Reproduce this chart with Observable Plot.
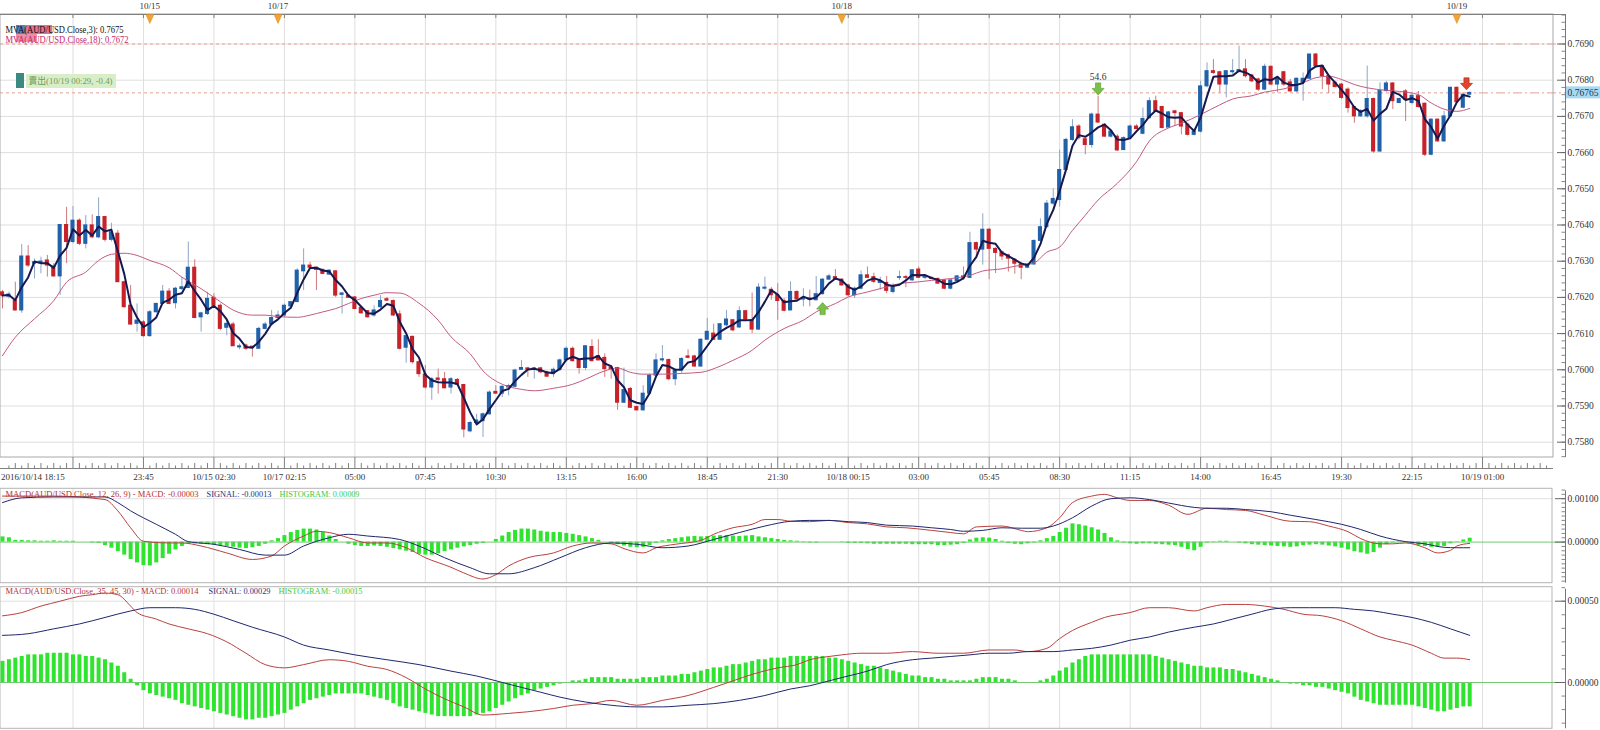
<!DOCTYPE html>
<html><head><meta charset="utf-8">
<script src="https://cdn.jsdelivr.net/npm/d3@7"></script>
<script src="https://cdn.jsdelivr.net/npm/@observablehq/plot@0.6"></script>
<style>
body{margin:0;background:#fff;}
#wrap{position:relative;width:1600px;height:730px;overflow:hidden;background:#fff;}
#wrap svg{position:absolute;left:0;}
</style></head><body><div id="wrap"></div>
<script>
// ---------- DATA ----------
// 15-minute AUD/USD candles: [open, high, low, close]
const candles = [
[0.76214,0.76219,0.76168,0.76205],[0.76202,0.76214,0.76196,0.76208],[0.76191,0.76242,0.76162,0.76164],[0.76164,0.76346,0.76156,0.76313],[0.76313,0.76343,0.76283,0.76288],
[0.76293,0.76306,0.76251,0.76297],[0.76294,0.76311,0.76265,0.76299],[0.76302,0.76316,0.76256,0.76288],[0.76285,0.76293,0.76256,0.76258],[0.76258,0.76400,0.76205,0.76400],
[0.76400,0.76449,0.76293,0.76353],[0.76353,0.76451,0.76348,0.76412],[0.76412,0.76417,0.76343,0.76348],[0.76348,0.76426,0.76334,0.76399],[0.76399,0.76428,0.76362,0.76366],
[0.76366,0.76475,0.76362,0.76422],[0.76422,0.76424,0.76353,0.76359],[0.76359,0.76405,0.76353,0.76380],[0.76376,0.76385,0.76242,0.76242],[0.76242,0.76245,0.76170,0.76173],
[0.76177,0.76233,0.76123,0.76125],[0.76127,0.76182,0.76104,0.76136],[0.76131,0.76136,0.76090,0.76093],[0.76093,0.76164,0.76090,0.76159],[0.76159,0.76184,0.76156,0.76182],
[0.76182,0.76233,0.76180,0.76216],[0.76216,0.76224,0.76180,0.76182],[0.76184,0.76228,0.76168,0.76224],[0.76223,0.76256,0.76219,0.76228],[0.76226,0.76353,0.76224,0.76282],
[0.76282,0.76304,0.76143,0.76143],[0.76145,0.76159,0.76104,0.76156],[0.76154,0.76214,0.76150,0.76196],[0.76199,0.76210,0.76173,0.76177],[0.76177,0.76182,0.76108,0.76113],
[0.76116,0.76136,0.76094,0.76127],[0.76125,0.76131,0.76065,0.76065],[0.76062,0.76071,0.76055,0.76065],[0.76067,0.76071,0.76053,0.76058],[0.76064,0.76064,0.76035,0.76060],
[0.76058,0.76118,0.76058,0.76113],[0.76113,0.76131,0.76110,0.76125],[0.76125,0.76164,0.76122,0.76143],[0.76143,0.76162,0.76141,0.76150],[0.76150,0.76182,0.76145,0.76177],
[0.76175,0.76189,0.76173,0.76187],[0.76187,0.76279,0.76187,0.76274],[0.76272,0.76334,0.76219,0.76288],[0.76288,0.76297,0.76279,0.76282],[0.76282,0.76282,0.76219,0.76276],
[0.76276,0.76278,0.76263,0.76265],[0.76263,0.76276,0.76261,0.76274],[0.76272,0.76274,0.76200,0.76205],[0.76207,0.76212,0.76154,0.76211],[0.76205,0.76207,0.76197,0.76199],
[0.76200,0.76202,0.76166,0.76168],[0.76171,0.76173,0.76154,0.76156],[0.76162,0.76164,0.76143,0.76145],[0.76150,0.76177,0.76145,0.76164],[0.76173,0.76205,0.76168,0.76190],
[0.76195,0.76200,0.76189,0.76191],[0.76190,0.76193,0.76147,0.76150],[0.76153,0.76163,0.76055,0.76058],[0.76061,0.76093,0.76018,0.76093],[0.76091,0.76093,0.76016,0.76021],
[0.76021,0.76026,0.75979,0.75988],[0.75987,0.76012,0.75947,0.75951],[0.75951,0.75979,0.75916,0.75974],[0.75976,0.76002,0.75933,0.75972],[0.75974,0.75993,0.75947,0.75949],
[0.75951,0.75979,0.75933,0.75974],[0.75972,0.75976,0.75955,0.75959],[0.75958,0.75960,0.75812,0.75835],[0.75830,0.75858,0.75826,0.75853],[0.75853,0.75877,0.75849,0.75860],
[0.75858,0.75881,0.75813,0.75877],[0.75877,0.75942,0.75875,0.75937],[0.75939,0.75956,0.75933,0.75934],[0.75934,0.75956,0.75923,0.75953],[0.75951,0.75960,0.75928,0.75955],
[0.75953,0.76002,0.75951,0.75998],[0.76000,0.76026,0.75998,0.76005],[0.76004,0.76007,0.75979,0.76000],[0.76000,0.76007,0.75974,0.76004],[0.76004,0.76007,0.75990,0.75993],
[0.75993,0.75996,0.75979,0.75981],[0.75988,0.76005,0.75979,0.76000],[0.76000,0.76030,0.75996,0.76026],[0.76026,0.76063,0.76021,0.76058],[0.76058,0.76063,0.76021,0.76024],
[0.76026,0.76027,0.75988,0.76005],[0.76005,0.76067,0.75998,0.76065],[0.76063,0.76083,0.76021,0.76024],[0.76038,0.76083,0.76024,0.76026],[0.76033,0.76044,0.75979,0.76002],
[0.76007,0.76012,0.75974,0.76002],[0.76005,0.76007,0.75888,0.75909],[0.75909,0.76005,0.75907,0.75944],[0.75947,0.75951,0.75893,0.75895],[0.75897,0.75900,0.75886,0.75888],
[0.75888,0.75956,0.75886,0.75934],[0.75934,0.75988,0.75933,0.75984],[0.75984,0.76044,0.75981,0.76026],[0.76026,0.76067,0.76021,0.76029],[0.76027,0.76030,0.75970,0.75974],
[0.75974,0.76002,0.75956,0.75998],[0.75998,0.76033,0.75990,0.76030],[0.76037,0.76055,0.76030,0.76033],[0.76037,0.76040,0.76007,0.76009],[0.76009,0.76086,0.76007,0.76083],
[0.76083,0.76142,0.76083,0.76105],[0.76100,0.76126,0.76082,0.76083],[0.76083,0.76128,0.76082,0.76126],[0.76123,0.76164,0.76118,0.76139],[0.76137,0.76139,0.76105,0.76109],
[0.76117,0.76174,0.76114,0.76162],[0.76162,0.76164,0.76137,0.76139],[0.76137,0.76212,0.76100,0.76111],[0.76111,0.76238,0.76109,0.76227],[0.76224,0.76256,0.76220,0.76227],
[0.76221,0.76227,0.76192,0.76206],[0.76206,0.76238,0.76137,0.76190],[0.76190,0.76197,0.76160,0.76163],[0.76164,0.76243,0.76163,0.76215],[0.76215,0.76218,0.76190,0.76194],
[0.76194,0.76224,0.76174,0.76197],[0.76197,0.76220,0.76174,0.76194],[0.76192,0.76258,0.76192,0.76209],[0.76209,0.76252,0.76206,0.76249],[0.76249,0.76264,0.76247,0.76258],
[0.76256,0.76277,0.76247,0.76249],[0.76249,0.76252,0.76231,0.76233],[0.76233,0.76236,0.76201,0.76206],[0.76206,0.76229,0.76197,0.76224],[0.76224,0.76273,0.76221,0.76261],
[0.76261,0.76284,0.76252,0.76254],[0.76256,0.76267,0.76238,0.76243],[0.76240,0.76256,0.76220,0.76245],[0.76240,0.76258,0.76210,0.76218],[0.76215,0.76238,0.76210,0.76231],
[0.76254,0.76273,0.76247,0.76256],[0.76256,0.76261,0.76227,0.76254],[0.76247,0.76277,0.76245,0.76275],[0.76277,0.76284,0.76252,0.76254],[0.76254,0.76261,0.76249,0.76256],
[0.76254,0.76256,0.76249,0.76251],[0.76251,0.76254,0.76236,0.76238],[0.76247,0.76249,0.76221,0.76224],[0.76224,0.76249,0.76221,0.76247],[0.76245,0.76261,0.76243,0.76258],
[0.76258,0.76284,0.76247,0.76254],[0.76254,0.76380,0.76252,0.76350],[0.76350,0.76353,0.76313,0.76332],[0.76332,0.76431,0.76289,0.76387],[0.76387,0.76390,0.76249,0.76334],
[0.76334,0.76337,0.76266,0.76323],[0.76325,0.76328,0.76302,0.76313],[0.76316,0.76319,0.76270,0.76307],[0.76304,0.76307,0.76264,0.76293],[0.76291,0.76295,0.76249,0.76282],
[0.76282,0.76293,0.76279,0.76291],[0.76291,0.76359,0.76289,0.76356],[0.76356,0.76417,0.76353,0.76394],[0.76394,0.76468,0.76392,0.76459],[0.76459,0.76500,0.76454,0.76472],
[0.76469,0.76607,0.76450,0.76552],[0.76552,0.76640,0.76550,0.76635],[0.76635,0.76691,0.76631,0.76670],[0.76672,0.76677,0.76635,0.76640],[0.76637,0.76640,0.76594,0.76621],
[0.76621,0.76709,0.76612,0.76705],[0.76705,0.76756,0.76681,0.76683],[0.76677,0.76680,0.76643,0.76644],[0.76644,0.76663,0.76640,0.76658],[0.76644,0.76649,0.76603,0.76606],
[0.76607,0.76644,0.76606,0.76640],[0.76640,0.76677,0.76637,0.76672],[0.76672,0.76677,0.76663,0.76665],[0.76652,0.76723,0.76649,0.76693],[0.76695,0.76751,0.76693,0.76742],
[0.76742,0.76756,0.76711,0.76714],[0.76726,0.76728,0.76665,0.76668],[0.76669,0.76714,0.76668,0.76711],[0.76714,0.76717,0.76672,0.76709],[0.76709,0.76711,0.76649,0.76672],
[0.76677,0.76681,0.76646,0.76649],[0.76649,0.76663,0.76646,0.76658],[0.76658,0.76797,0.76654,0.76783],[0.76783,0.76848,0.76779,0.76825],[0.76825,0.76857,0.76816,0.76820],
[0.76822,0.76825,0.76765,0.76788],[0.76788,0.76825,0.76751,0.76825],[0.76822,0.76857,0.76816,0.76825],[0.76823,0.76894,0.76820,0.76828],[0.76830,0.76857,0.76806,0.76811],
[0.76813,0.76816,0.76793,0.76797],[0.76802,0.76806,0.76769,0.76774],[0.76774,0.76844,0.76772,0.76837],[0.76837,0.76839,0.76785,0.76788],[0.76788,0.76806,0.76765,0.76804],
[0.76822,0.76825,0.76783,0.76788],[0.76794,0.76802,0.76767,0.76769],[0.76769,0.76806,0.76767,0.76804],[0.76793,0.76820,0.76742,0.76804],[0.76804,0.76871,0.76802,0.76871],
[0.76871,0.76874,0.76837,0.76839],[0.76839,0.76841,0.76774,0.76811],[0.76811,0.76813,0.76763,0.76788],[0.76793,0.76797,0.76779,0.76781],[0.76788,0.76791,0.76746,0.76751],
[0.76774,0.76779,0.76709,0.76723],[0.76726,0.76728,0.76681,0.76700],[0.76700,0.76719,0.76698,0.76714],[0.76700,0.76839,0.76695,0.76748],[0.76748,0.76751,0.76598,0.76603],
[0.76603,0.76793,0.76600,0.76770],[0.76770,0.76797,0.76767,0.76791],[0.76791,0.76793,0.76719,0.76742],[0.76737,0.76751,0.76735,0.76748],[0.76769,0.76774,0.76686,0.76746],
[0.76737,0.76760,0.76732,0.76757],[0.76756,0.76769,0.76723,0.76726],[0.76735,0.76737,0.76589,0.76594],[0.76594,0.76693,0.76591,0.76691],[0.76691,0.76693,0.76628,0.76631],
[0.76631,0.76714,0.76628,0.76700],[0.76700,0.76781,0.76698,0.76779],[0.76779,0.76781,0.76736,0.76739],[0.76724,0.76762,0.76721,0.76760],[0.76760,0.76767,0.76759,0.76765]
];

// MA(18): [candle index, value]
const ma18 = [[0,0.76039],[2,0.76090],[5,0.76141],[8,0.76191],[10,0.76242],[13,0.76270],[15,0.76302],[17,0.76319],[19,0.76322],[21,0.76316],[23,0.76302],[26,0.76282],[28,0.76256],[31,0.76224],[34,0.76188],[36,0.76165],[39,0.76151],[41,0.76151],[43,0.76147],[46,0.76145],[48,0.76151],[50,0.76160],[52,0.76169],[54,0.76183],[56,0.76197],[58,0.76206],[60,0.76213],[62,0.76212],[65,0.76184],[68,0.76137],[70,0.76091],[73,0.76044],[75,0.75997],[78,0.75960],[81,0.75946],[83,0.75942],[86,0.75949],[89,0.75960],[91,0.75974],[94,0.75997],[96,0.76005],[98,0.75993],[100,0.75988],[103,0.75988],[106,0.75990],[109,0.75993],[112,0.76010],[114,0.76026],[117,0.76054],[119,0.76082],[122,0.76114],[125,0.76137],[127,0.76160],[130,0.76183],[132,0.76201],[135,0.76215],[138,0.76229],[140,0.76238],[143,0.76243],[145,0.76247],[148,0.76252],[151,0.76261],[153,0.76273],[156,0.76279],[158,0.76286],[161,0.76295],[163,0.76325],[165,0.76339],[167,0.76385],[169,0.76427],[171,0.76469],[174,0.76515],[177,0.76575],[179,0.76632],[182,0.76668],[184,0.76681],[187,0.76705],[190,0.76732],[192,0.76748],[195,0.76757],[197,0.76767],[200,0.76776],[203,0.76793],[205,0.76807],[207,0.76811],[209,0.76802],[211,0.76788],[213,0.76779],[216,0.76772],[218,0.76769],[221,0.76760],[223,0.76737],[225,0.76720],[227,0.76714],[229,0.76722]];

// MACD(12,26,9)
const macd1 = [[0,0.00106],[8,0.00106],[16,0.00098],[18,0.00072],[20,0.00033],[22,0.00002],[26,-0.00002],[28,-0.00002],[31,-0.00009],[35,-0.00025],[39,-0.00040],[42,-0.00032],[44,-0.00009],[47,0.00014],[49,0.00025],[51,0.00022],[54,0.00010],[57,-0.00002],[60,-0.00002],[63,-0.00013],[66,-0.00036],[70,-0.00058],[72,-0.00071],[75,-0.00085],[77,-0.00075],[79,-0.00055],[82,-0.00036],[86,-0.00025],[89,-0.00009],[92,-0.00002],[95,-0.00004],[97,-0.00015],[100,-0.00025],[102,-0.00013],[105,-0.00005],[109,0.00004],[111,0.00018],[114,0.00033],[117,0.00041],[119,0.00052],[121,0.00052],[123,0.00048],[126,0.00047],[129,0.00050],[132,0.00045],[135,0.00042],[138,0.00035],[141,0.00033],[145,0.00027],[148,0.00022],[150,0.00019],[152,0.00035],[156,0.00037],[159,0.00027],[160,0.00024],[163,0.00033],[165,0.00056],[167,0.00091],[170,0.00106],[172,0.00110],[174,0.00102],[176,0.00096],[179,0.00096],[182,0.00085],[185,0.00064],[188,0.00078],[191,0.00075],[194,0.00073],[197,0.00062],[201,0.00048],[204,0.00047],[207,0.00037],[210,0.00024],[212,0.00008],[215,-0.00004],[217,-0.00004],[219,-0.00002],[222,-0.00013],[224,-0.00025],[226,-0.00019],[227,-0.00009],[229,-0.00003]];
const signal1 = [[0,0.00091],[3,0.00102],[8,0.00104],[16,0.00104],[18,0.00091],[20,0.00072],[24,0.00041],[27,0.00018],[29,0.00001],[33,-0.00005],[37,-0.00017],[41,-0.00030],[44,-0.00030],[47,-0.00009],[51,0.00010],[54,0.00018],[57,0.00014],[62,0.00006],[65,-0.00009],[69,-0.00036],[73,-0.00059],[76,-0.00073],[79,-0.00073],[83,-0.00059],[87,-0.00036],[91,-0.00013],[95,-0.00002],[99,-0.00005],[103,-0.00013],[107,-0.00009],[111,0.00006],[115,0.00022],[119,0.00037],[123,0.00048],[126,0.00050],[129,0.00050],[132,0.00047],[135,0.00045],[138,0.00039],[142,0.00037],[145,0.00033],[148,0.00029],[150,0.00025],[153,0.00027],[156,0.00033],[159,0.00032],[162,0.00032],[164,0.00037],[167,0.00056],[170,0.00083],[173,0.00100],[176,0.00102],[179,0.00098],[182,0.00090],[186,0.00080],[188,0.00078],[191,0.00078],[194,0.00075],[198,0.00070],[201,0.00062],[205,0.00052],[209,0.00041],[212,0.00029],[215,0.00014],[219,0.00001],[222,-0.00004],[225,-0.00012],[227,-0.00013],[229,-0.00013]];
const hist1 = [0.00012,0.00010,0.00004,0.00004,0.00003,0.00003,0.00002,0.00002,0.00003,0.00002,
0.00002,0.00002,0,0,-0.00002,-0.00003,-0.00008,-0.00014,-0.00022,-0.00030,
-0.00040,-0.00048,-0.00054,-0.00055,-0.00048,-0.00038,-0.00028,-0.00018,-0.00010,-0.00005,
-0.00004,-0.00005,-0.00006,-0.00007,-0.00008,-0.00010,-0.00012,-0.00014,-0.00015,-0.00013,
-0.00010,-0.00005,0.00003,0.00008,0.00015,0.00022,0.00027,0.00030,0.00030,0.00028,
0.00022,0.00014,0.00006,0,-0.00005,-0.00008,-0.00010,-0.00010,-0.00009,-0.00010,
-0.00012,-0.00015,-0.00018,-0.00021,-0.00024,-0.00028,-0.00030,-0.00030,-0.00027,-0.00022,
-0.00018,-0.00014,-0.00011,-0.00008,-0.00005,-0.00003,0,0.00006,0.00014,0.00022,
0.00027,0.00030,0.00030,0.00028,0.00025,0.00023,0.00022,0.00022,0.00020,0.00018,
0.00015,0.00012,0.00008,0.00004,0,-0.00003,-0.00006,-0.00009,-0.00012,-0.00013,
-0.00012,-0.00008,-0.00003,0.00003,0.00006,0.00008,0.00010,0.00012,0.00013,0.00012,
0.00013,0.00014,0.00015,0.00015,0.00014,0.00013,0.00014,0.00015,0.00012,0.00010,
0.00008,0.00006,0.00004,0.00003,0.00002,0.00001,-0.00002,-0.00002,0,0,
0,-0.00001,-0.00003,-0.00003,-0.00003,-0.00004,-0.00005,-0.00005,-0.00005,-0.00005,
-0.00005,-0.00005,-0.00006,-0.00006,-0.00006,-0.00006,-0.00008,-0.00008,-0.00007,-0.00006,
-0.00003,0.00005,0.00009,0.00010,0.00009,0.00006,0.00002,-0.00003,-0.00005,-0.00006,
-0.00004,-0.00002,0.00003,0.00008,0.00013,0.00022,0.00032,0.00042,0.00040,0.00037,
0.00033,0.00028,0.00020,0.00010,0.00003,-0.00002,-0.00004,-0.00005,-0.00004,-0.00004,
-0.00005,-0.00006,-0.00007,-0.00008,-0.00012,-0.00017,-0.00020,-0.00012,-0.00002,0.00001,
0.00002,0.00002,0,-0.00002,-0.00004,-0.00006,-0.00007,-0.00008,-0.00009,-0.00010,
-0.00011,-0.00012,-0.00011,-0.00008,-0.00007,-0.00006,-0.00007,-0.00009,-0.00011,-0.00014,
-0.00018,-0.00022,-0.00025,-0.00028,-0.00024,-0.00014,-0.00006,-0.00002,-0.00001,-0.00002,
-0.00005,-0.00008,-0.00010,-0.00012,-0.00012,-0.00010,-0.00004,0.00001,0.00005,0.00009];

// MACD(35,45,30)
const macd2 = [[0,0.00041],[3,0.00043],[6,0.00047],[9,0.00050],[12,0.00053],[14,0.00054],[16,0.00055],[18,0.00054],[20,0.00047],[21,0.00043],[24,0.00039],[26,0.00036],[29,0.00033],[32,0.00030],[35,0.00025],[38,0.00018],[41,0.00011],[44,0.00009],[47,0.00011],[51,0.00014],[54,0.00013],[57,0.00010],[60,0.00008],[63,0.00003],[66,-0.00004],[69,-0.00010],[72,-0.00015],[75,-0.00020],[79,-0.00019],[82,-0.00018],[86,-0.00016],[89,-0.00014],[92,-0.00013],[95,-0.00011],[99,-0.00014],[103,-0.00011],[107,-0.00008],[111,-0.00003],[114,0.00001],[117,0.00005],[121,0.00009],[124,0.00011],[126,0.00014],[129,0.00016],[131,0.00017],[134,0.00018],[138,0.00018],[142,0.00019],[146,0.00018],[150,0.00018],[154,0.00020],[158,0.00020],[160,0.00019],[163,0.00021],[165,0.00027],[167,0.00032],[170,0.00037],[172,0.00040],[176,0.00043],[179,0.00046],[182,0.00046],[186,0.00044],[188,0.00046],[191,0.00048],[194,0.00048],[197,0.00047],[200,0.00045],[203,0.00042],[206,0.00041],[209,0.00038],[212,0.00033],[215,0.00028],[217,0.00026],[220,0.00023],[223,0.00018],[225,0.00015],[227,0.00015],[229,0.00014]];
const signal2 = [[0,0.00029],[4,0.00030],[8,0.00033],[12,0.00036],[16,0.00040],[20,0.00044],[23,0.00046],[27,0.00046],[30,0.00045],[33,0.00042],[36,0.00038],[39,0.00034],[44,0.00028],[47,0.00023],[51,0.00020],[55,0.00017],[60,0.00014],[65,0.00011],[70,0.00007],[74,0.00004],[79,-0.00001],[84,-0.00006],[87,-0.00009],[91,-0.00012],[95,-0.00014],[99,-0.00015],[103,-0.00015],[107,-0.00014],[111,-0.00013],[115,-0.00011],[119,-0.00008],[123,-0.00004],[126,-0.00002],[129,0.00001],[132,0.00004],[135,0.00007],[138,0.00011],[142,0.00014],[145,0.00015],[148,0.00016],[151,0.00017],[154,0.00018],[157,0.00018],[160,0.00019],[164,0.00019],[167,0.00020],[170,0.00021],[173,0.00023],[176,0.00026],[179,0.00028],[182,0.00031],[186,0.00034],[189,0.00036],[192,0.00039],[195,0.00042],[198,0.00045],[201,0.00046],[204,0.00046],[208,0.00046],[211,0.00045],[214,0.00044],[217,0.00042],[220,0.00040],[223,0.00037],[226,0.00033],[229,0.00029]];
const hist2 = [0.00013,0.00014,0.00015,0.00016,0.00017,0.00017,0.00017,0.00018,0.00018,0.00018,
0.00018,0.00017,0.00017,0.00016,0.00016,0.00015,0.00014,0.00012,0.00010,0.00006,
0.00002,-0.00002,-0.00005,-0.00007,-0.00008,-0.00009,-0.00010,-0.00011,-0.00013,-0.00014,
-0.00015,-0.00016,-0.00017,-0.00018,-0.00019,-0.00020,-0.00021,-0.00022,-0.00023,-0.00023,
-0.00022,-0.00022,-0.00021,-0.00020,-0.00019,-0.00017,-0.00015,-0.00013,-0.00011,-0.00010,
-0.00009,-0.00008,-0.00007,-0.00007,-0.00007,-0.00007,-0.00007,-0.00008,-0.00009,-0.00010,
-0.00011,-0.00013,-0.00015,-0.00016,-0.00017,-0.00018,-0.00019,-0.00020,-0.00021,-0.00021,
-0.00021,-0.00021,-0.00021,-0.00021,-0.00020,-0.00019,-0.00018,-0.00016,-0.00014,-0.00012,
-0.00010,-0.00008,-0.00007,-0.00005,-0.00004,-0.00003,-0.00002,-0.00001,0,0.00001,
0.00001,0.00002,0.00003,0.00003,0.00003,0.00003,0.00002,0.00002,0.00002,0.00002,
0.00003,0.00003,0.00003,0.00004,0.00004,0.00004,0.00005,0.00005,0.00006,0.00007,
0.00008,0.00009,0.00009,0.00010,0.00011,0.00011,0.00012,0.00013,0.00014,0.00014,
0.00015,0.00015,0.00015,0.00016,0.00016,0.00016,0.00016,0.00016,0.00016,0.00015,
0.00015,0.00014,0.00013,0.00012,0.00011,0.00010,0.00010,0.00009,0.00008,0.00007,
0.00006,0.00005,0.00004,0.00004,0.00003,0.00003,0.00002,0.00002,0.00001,0.00001,
0.00001,0.00001,0.00002,0.00003,0.00003,0.00003,0.00002,0.00002,0.00001,0,
0,0,0.00001,0.00002,0.00004,0.00007,0.00009,0.00012,0.00014,0.00016,
0.00017,0.00017,0.00017,0.00017,0.00017,0.00017,0.00017,0.00017,0.00017,0.00017,
0.00016,0.00015,0.00014,0.00013,0.00012,0.00011,0.00010,0.00010,0.00009,0.00009,
0.00009,0.00008,0.00008,0.00007,0.00006,0.00005,0.00004,0.00003,0.00002,0.00001,
0,-0.00001,-0.00001,-0.00002,-0.00002,-0.00003,-0.00003,-0.00004,-0.00005,-0.00006,
-0.00007,-0.00009,-0.00011,-0.00012,-0.00013,-0.00014,-0.00014,-0.00014,-0.00014,-0.00014,
-0.00014,-0.00015,-0.00016,-0.00017,-0.00018,-0.00018,-0.00017,-0.00016,-0.00015,-0.00015];

// axis labels
const timeTickIdx = [0,22,33,44,55,66,77,88,99,110,121,132,143,154,165,176,187,198,209,220,231];
const timeLabels = ["2016/10/14 18:15","23:45","10/15 02:30","10/17 02:15","05:00","07:45","10:30","13:15","16:00","18:45","21:30","10/18 00:15","03:00","05:45","08:30","11:15","14:00","16:45","19:30","22:15","10/19 01:00"];
const dateIdx = [23,43,131,227];
const dateLabels = ["10/15","10/17","10/18","10/19"];
const priceTicks = [0.7580,0.7590,0.7600,0.7610,0.7620,0.7630,0.7640,0.7650,0.7660,0.7670,0.7680,0.7690];
const macd1Ticks = [0,0.00100];
const macd2Ticks = [0,0.00050];
const levelLines = [0.7690, 0.76765];
const maLegend = ["MVA(AUD/USD.Close,3): 0.7675","MVA(AUD/USD.Close,18): 0.7672"];
const tradeNote = "賣出(10/19 00:29, -0.4)";
const sigIdx = [171, 128, 228.5];
const sigPrice = [0.76776, 0.76169, 0.76790];
const sigDir = ["down","up","down"];
const sigLabel = ["54.6","",""];

// ---------- LAYOUT ----------
const S = "'Liberation Serif','DejaVu Serif',serif";
const ix = px => (px - 2) / 6.407;            // page x -> candle index
const pp = px => 0.7690 - (px - 43.5) / 36200; // page y -> price (main)
const XL = ix(0), XR = ix(1553), XA = ix(1565);
const vgrid = d3.range(11, 242, 11);
const blueBody="#2161a9", redBody="#c7222a", blueWick="#8ea6c8", redWick="#cf7b7b";
const textWidths = new Map(); // rendered text width in px (layout only)

const rows = candles.map(([o,h,l,c],i)=>({i,o,h,l,c}));
const up = rows.filter(d=>d.c>=d.o), dn = rows.filter(d=>d.c<d.o);
const sigs = sigIdx.map((x,k)=>({i:x, p:sigPrice[k], dir:sigDir[k], label:sigLabel[k]}));

const arrowDown = {draw(c){c.moveTo(-2.6,-6);c.lineTo(2.6,-6);c.lineTo(2.6,-0.5);c.lineTo(6,-0.5);c.lineTo(0,6);c.lineTo(-6,-0.5);c.lineTo(-2.6,-0.5);c.closePath();}};
const arrowUp = {draw(c){c.moveTo(-2.6,6);c.lineTo(2.6,6);c.lineTo(2.6,0.5);c.lineTo(6,0.5);c.lineTo(0,-6);c.lineTo(-6,0.5);c.lineTo(-2.6,0.5);c.closePath();}};
const triDown = {draw(c){c.moveTo(-4,-4.5);c.lineTo(4,-4.5);c.lineTo(0,4.5);c.closePath();}};

function txt(px, yv, s, fill, size, anchor, font, width){
  if (width) textWidths.set(s, width);
  return Plot.text([s], {x: ix(px), y: yv, text: d=>d, fill, fontSize: size||9, textAnchor: anchor||"start", fontFamily: font||S});
}
function box(px1, px2, y1, y2, fill, extra){
  return Plot.rect([0], Object.assign({x1: ix(px1), x2: ix(px2), y1, y2, fill}, extra||{}));
}
function fitTexts(svg){
  svg.querySelectorAll("text").forEach(t => {
    const w = textWidths.get(t.textContent);
    if (w) { t.setAttribute("textLength", w); t.setAttribute("lengthAdjust", "spacingAndGlyphs"); }
  });
}
const xOpt = {type:"linear", domain:[ix(0), ix(1600)], range:[0,1600], axis:null};

// ---------- MAIN PRICE PANEL ----------
const mainMarks = [
  Plot.ruleY(priceTicks, {y: d=>d, x1: XL, x2: XR, stroke:"#dedede"}),
  Plot.ruleX(vgrid, {x: d=>d, y1: pp(457), y2: pp(14), stroke:"#dedede"}),
  Plot.ruleY(levelLines, {y: d=>d, x1: XL, x2: ix(1462), stroke:"#e4a090", strokeDasharray:"3,3"}),
  Plot.ruleY(levelLines, {y: d=>d, x1: ix(1462), x2: XA, stroke:"#e4a090", strokeDasharray:"9,3,2,3"}),
  box(0, 1553, pp(457), pp(14), "none", {stroke:"#a8a8a8"}),
  // candles
  Plot.ruleX(up, {x:"i", y1:"l", y2:"h", stroke: blueWick}),
  Plot.ruleX(dn, {x:"i", y1:"l", y2:"h", stroke: redWick}),
  Plot.rect(up, {x1: d=>d.i-0.32, x2: d=>d.i+0.32, y1:"o", y2:"c", fill: blueBody, insetTop:-0.5, insetBottom:-0.5}),
  Plot.rect(dn, {x1: d=>d.i-0.32, x2: d=>d.i+0.32, y1:"o", y2:"c", fill: redBody, insetTop:-0.5, insetBottom:-0.5}),
  // moving averages
  Plot.line(ma18, {x: d=>d[0], y: d=>d[1], stroke:"#c25a84", strokeWidth:1, curve:"monotone-x"}),
  Plot.line(rows, Plot.windowY({k:3, anchor:"end"}, {x:"i", y:"c", stroke:"#15194f", strokeWidth:2})),
  // trade signals
  Plot.dot(sigs.filter(d=>d.dir==="down" && d.label), {x:"i", y:"p", symbol: arrowDown, fill:"#7cc04a", stroke:"#4f9a2c", strokeWidth:0.6}),
  Plot.dot(sigs.filter(d=>d.dir==="up"), {x:"i", y:"p", symbol: arrowUp, fill:"#7cc04a", stroke:"#4f9a2c", strokeWidth:0.6}),
  Plot.dot(sigs.filter(d=>d.dir==="down" && !d.label), {x:"i", y:"p", symbol: arrowDown, fill:"#e0452b", stroke:"#a82a16", strokeWidth:0.6}),
  Plot.text(sigs.filter(d=>d.label), {x:"i", y:"p", text:"label", dy:-12, fontSize:9.5, fontFamily:S, fill:"#333"}),
  // right axis
  Plot.ruleX([0], {x: XA, y1: pp(457), y2: pp(14), stroke:"#777"}),
  Plot.ruleY(d3.range(-2, 60).map(k=>0.7580 + k*0.0002), {y: d=>d, x1: ix(1561.5), x2: XA, stroke:"#888"}),
  Plot.ruleY(priceTicks, {y: d=>d, x1: ix(1557), x2: XA, stroke:"#666"}),
  Plot.text(priceTicks, {x: ix(1567), y: d=>d, text: d=>d.toFixed(4), textAnchor:"start", fontSize:9.5, fontFamily:S, fill:"#333"}),
  box(1566, 1600, levelLines[1]-6/36200, levelLines[1]+6/36200, "#a6daf4"),
  Plot.text([levelLines[1]], {x: ix(1567), y: d=>d, text: d=>d.toFixed(5), textAnchor:"start", fontSize:9.5, fontFamily:S, fill:"#1a3550"}),
  // top strip
  Plot.ruleY([pp(14)], {y: d=>d, x1: XL, x2: XA, stroke:"#808080"}),
  Plot.ruleX(vgrid, {x: d=>d, y1: pp(14), y2: pp(18), stroke:"#808080"}),
  Plot.text(dateIdx, {x: d=>d, y: pp(5.5), text: (d,k)=>dateLabels[k], fontSize:9, fontFamily:S, fill:"#333"}),
  Plot.dot(dateIdx, {x: d=>d, y: pp(18.5), symbol: triDown, fill:"#f2a535", stroke:"#d88a20", strokeWidth:0.5}),
  // bottom time axis
  Plot.ruleY([pp(468)], {y: d=>d, x1: XL, x2: XR, stroke:"#808080"}),
  Plot.ruleX(vgrid, {x: d=>d, y1: pp(457), y2: pp(468), stroke:"#808080"}),
  Plot.ruleX(d3.range(1, 242).filter(i=>i%11), {x: d=>d, y1: pp(468), y2: d=>pp(468 - (d%2 ? 2.5 : 5)), stroke:"#808080"}),
  Plot.text(timeTickIdx.slice(1), {x: d=>d, y: pp(477), text: (d,k)=>timeLabels[k+1], fontSize:9, fontFamily:S, fill:"#333"}),
  txt(0.5, pp(477), timeLabels[0], "#333", 9),
  // legend (top-left)
  box(16, 25, pp(34), pp(25), "#3c68a8", {fillOpacity:0.85}),
  box(25, 52, pp(34), pp(25), "#de4e6e", {fillOpacity:0.8}),
  box(16, 37, pp(42), pp(34), "#ea6a86", {fillOpacity:0.75}),
  txt(5, pp(29.5), maLegend[0], "#111", 9.5, "start", S, 118),
  txt(5, pp(39.5), maLegend[1], "#c4286a", 9.5, "start", S, 123),
  box(16, 24, pp(88), pp(73), "#3a8a82"),
  box(26, 116, pp(88), pp(74), "#d9eec7"),
  txt(28, pp(81), tradeNote, "#6e9a5a", 9, "start", "'Liberation Serif','Noto Sans CJK TC',serif", 84)
];
const mainSvg = Plot.plot({
  width:1600, height:486, margin:0,
  x: xOpt,
  y: {type:"linear", domain:[pp(486), pp(0)], range:[486,0], axis:null},
  style:{background:"none", overflow:"visible"},
  marks: mainMarks
});
mainSvg.style.top = "0px";
fitTexts(mainSvg);
document.getElementById("wrap").appendChild(mainSvg);

// ---------- MACD PANELS ----------
function panel({top, h, vAt, bTop, bBot, ticks, minor, hist, macd, signal, labels, labelY}){
  const histRows = hist.map((v,i)=>({i,v}));
  const marks = [
    Plot.ruleX(vgrid, {x: d=>d, y1: vAt(bBot), y2: vAt(bTop), stroke:"#e0e0e0"}),
    Plot.ruleY(ticks.filter(t=>t!==0), {y: d=>d, x1: XL, x2: XR, stroke:"#e0e0e0"}),
    box(0, 1552, vAt(bBot), vAt(bTop), "none", {stroke:"#b5b5b5"}),
    Plot.ruleX(histRows, {x:"i", y1: 0, y2:"v", stroke:"#2fe42f", strokeWidth:4}),
    Plot.ruleY([0], {y: d=>d, x1: XL, x2: XA, stroke:"#74c874"}),
    Plot.line(macd, {x: d=>d[0], y: d=>d[1], stroke:"#b9413f", strokeWidth:1, curve:"monotone-x"}),
    Plot.line(signal, {x: d=>d[0], y: d=>d[1], stroke:"#1f276e", strokeWidth:1, curve:"monotone-x"}),
    Plot.ruleX([0], {x: XA, y1: vAt(bBot), y2: vAt(bTop+2), stroke:"#777"}),
    Plot.ruleY(minor, {y: d=>d, x1: ix(1561.5), x2: XA, stroke:"#888"}),
    Plot.ruleY(ticks, {y: d=>d, x1: ix(1555), x2: XA, stroke:"#666"}),
    Plot.text(ticks, {x: ix(1567), y: d=>d, text: d=>d.toFixed(5), textAnchor:"start", fontSize:9.5, fontFamily:S, fill:"#333"}),
    ...labels.map(([px, s, col, w]) => txt(px, vAt(labelY), s, col, 8.6, "start", S, w))
  ];
  const svg = Plot.plot({
    width:1600, height:h, margin:0, x: xOpt,
    y: {type:"linear", domain:[vAt(top+h), vAt(top)], range:[h,0], axis:null},
    style:{background:"none", overflow:"visible"},
    marks
  });
  svg.style.top = top + "px";
  fitTexts(svg);
  document.getElementById("wrap").appendChild(svg);
}
const last = a => a[a.length-1];
const f5 = v => v.toFixed(5);
const m1 = px => (541.6 - px) / 43400;
panel({top:484, h:101, vAt:m1, bTop:488.3, bBot:582.7, ticks:macd1Ticks,
  minor: d3.range(-9, 13).map(k=>k*0.0001), hist:hist1, macd:macd1, signal:signal1, labelY:494,
  labels:[[5, "MACD(AUD/USD.Close, 12, 26, 9) - MACD: " + f5(last(macd1)[1]), "#b8312f", 193],
          [206, "SIGNAL: " + f5(last(signal1)[1]), "#2b2f7a", 65],
          [279, "HISTOGRAM: " + f5(last(hist1)), "#3ccc3c", 80]]});
const m2 = px => (682 - px) / 162600;
panel({top:584, h:146, vAt:m2, bTop:586.7, bBot:728.3, ticks:macd2Ticks,
  minor: d3.range(-3, 8).map(k=>k*0.0005/6), hist:hist2, macd:macd2, signal:signal2, labelY:591,
  labels:[[5, "MACD(AUD/USD.Close, 35, 45, 30) - MACD: " + f5(last(macd2)[1]), "#b8312f", 193],
          [208, "SIGNAL: " + f5(last(signal2)[1]), "#2b2f7a", 62],
          [278, "HISTOGRAM: " + f5(last(hist2)), "#3ccc3c", 84]]});
</script>
</body></html>
